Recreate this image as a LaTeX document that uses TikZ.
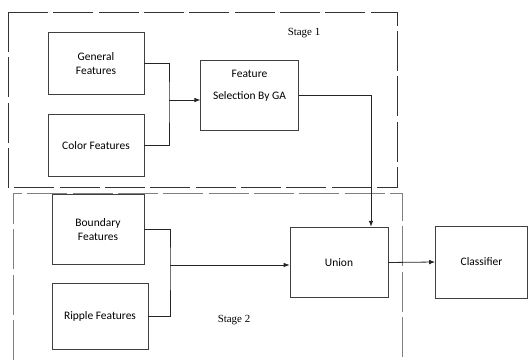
\documentclass[tikz,border=0pt]{standalone}
\usepackage{fontspec}
\setmainfont{Liberation Serif}
\newfontfamily\boxfont{Carlito}
\usetikzlibrary{arrows.meta}

\begin{document}
\begin{tikzpicture}[x=0.75pt,y=-0.75pt,
		box/.style={draw=black!75,line width=0.6pt,font=\boxfont\fontsize{8.6}{10.5}\selectfont,align=center,inner sep=0pt},
		stage/.style={dash pattern=on 30pt off 4pt,line width=0.6pt},
		wire/.style={draw=black!85,line width=0.6pt},
		arr/.style={wire,-{Latex[length=4.5pt,width=3.5pt]}},
		lbl/.style={font=\fontsize{8.2}{10}\selectfont}]
		\useasboundingbox (0,0) rectangle (528,360);

		% stage frames
		\draw[stage,black!80] (8,12) rectangle (397,187);
		\draw[stage,black!50] (13,360) -- (13,193) -- (402,193) -- (402,360);
		\node[lbl] (s1) at (304,33) {Stage 1};
		\node[lbl] (s2) at (234,320) {Stage 2};

		% feature boxes
		\node[box,minimum width=72pt,minimum height=46pt] (gen) at (96,63.5) {General\\Features};
		\node[box,minimum width=72pt,minimum height=46pt] (col) at (96,145.5) {Color Features};
		\node[box,minimum width=73pt,minimum height=53pt] (feat) at (249.5,95.5) {Feature\\[6pt]Selection By GA\\[6pt]\mbox{}};
		\node[box,minimum width=69pt,minimum height=53pt] (bnd) at (98,229.5) {Boundary\\Features};
		\node[box,minimum width=72pt,minimum height=49.5pt] (rip) at (100,316) {Ripple Features};
		\node[box,minimum width=73.5pt,minimum height=53pt] (uni) at (339,262.5) {Union};
		\node[box,minimum width=69pt,minimum height=54pt] (cls) at (481.5,262) {Classifier};

		% connectors
		\coordinate (j1) at (169,100);
		\coordinate (j2) at (170,265);
		\coordinate (drop) at (371,0);
		\draw[wire] (gen.east) -| (j1) |- (col.east);
		\draw[arr] (j1) -- (j1 -| feat.west);
		\draw[wire] (bnd.east) -| (j2) |- (rip.east);
		\draw[arr] (j2) -- (j2 -| uni.west);
		\draw[arr] (feat.east) -| (drop |- uni.north);
		\draw[arr] (uni.east) -- (cls.west);
\end{tikzpicture}
\end{document}
